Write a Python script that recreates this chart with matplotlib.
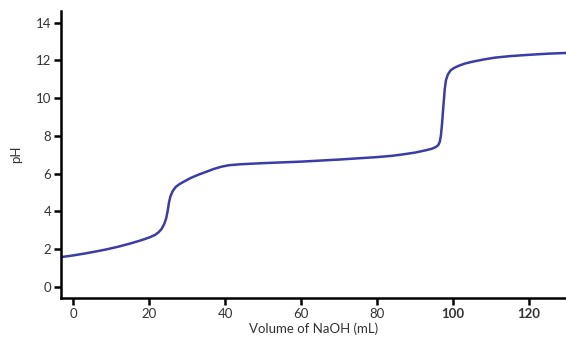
import matplotlib
matplotlib.use('Agg')
from matplotlib import pyplot as plt

# titration curve
volume_ml = [-3.2, 0, 3, 6, 9, 12, 15, 18, 20, 21.5, 22.5, 23.3, 24, 24.5, 24.9,
             25.2, 25.6, 26.2, 27, 28, 29.5, 31, 33, 35, 37, 39, 41, 44, 50, 60,
             70, 80, 84, 87, 90, 93, 94.5, 95.5, 96.1, 96.5, 96.8, 97.1, 97.4,
             97.6, 97.8, 98.1, 98.6, 99.3, 100.2, 101.5, 103, 105, 108, 111,
             115, 120, 125, 130]
ph = [1.58, 1.67, 1.77, 1.88, 2.0, 2.14, 2.3, 2.48, 2.62, 2.75, 2.9, 3.08, 3.35, 3.65, 4.05,
      4.45, 4.8, 5.08, 5.3, 5.45, 5.62, 5.78, 5.95, 6.1, 6.25, 6.37, 6.45, 6.5, 6.56, 6.64,
      6.75, 6.88, 6.95, 7.03, 7.12, 7.25, 7.33, 7.42, 7.52, 7.7, 8.05, 8.7, 9.5,
      10.0, 10.5, 10.95, 11.25, 11.47, 11.6, 11.72, 11.83, 11.93, 12.05, 12.15,
      12.23, 12.3, 12.36, 12.4]

x_ticks = [0, 20, 40, 60, 80, 100, 120]
y_ticks = [0, 2, 4, 6, 8, 10, 12, 14]

plt.rcParams['font.family'] = ['Lato', 'DejaVu Sans']

fig = plt.figure(figsize=(5.66, 3.44), dpi=100)
ax = fig.add_axes([0.108, 0.134, 0.892, 0.834])

ax.plot(volume_ml, ph, color='#3a3ca8', lw=1.8, solid_capstyle='round',
        solid_joinstyle='round')

ax.set_xlim(-3.16, 129.7)
ax.set_ylim(-0.58, 14.62)
ax.set_xticks(x_ticks)
ax.set_yticks(y_ticks)
ax.set_xticklabels([str(t) for t in x_ticks], fontsize=9.5, color='#333333')
ax.set_yticklabels([str(t) for t in y_ticks], fontsize=9.5, color='#333333')
for lbl in ax.get_xticklabels():
    if lbl.get_text() in ('100', '120'):
        lbl.set_fontweight('bold')

ax.spines['top'].set_visible(False)
ax.spines['right'].set_visible(False)
for side in ('left', 'bottom'):
    ax.spines[side].set_linewidth(1.8)
ax.tick_params(direction='out', length=5, width=1.8, pad=2)

ax.set_xlabel('Volume of NaOH (mL)', fontsize=9.5, color='#333333', labelpad=2)
ax.set_ylabel('pH', fontsize=9.5, color='#333333', labelpad=10)

fig.savefig('out.png', dpi=100)
